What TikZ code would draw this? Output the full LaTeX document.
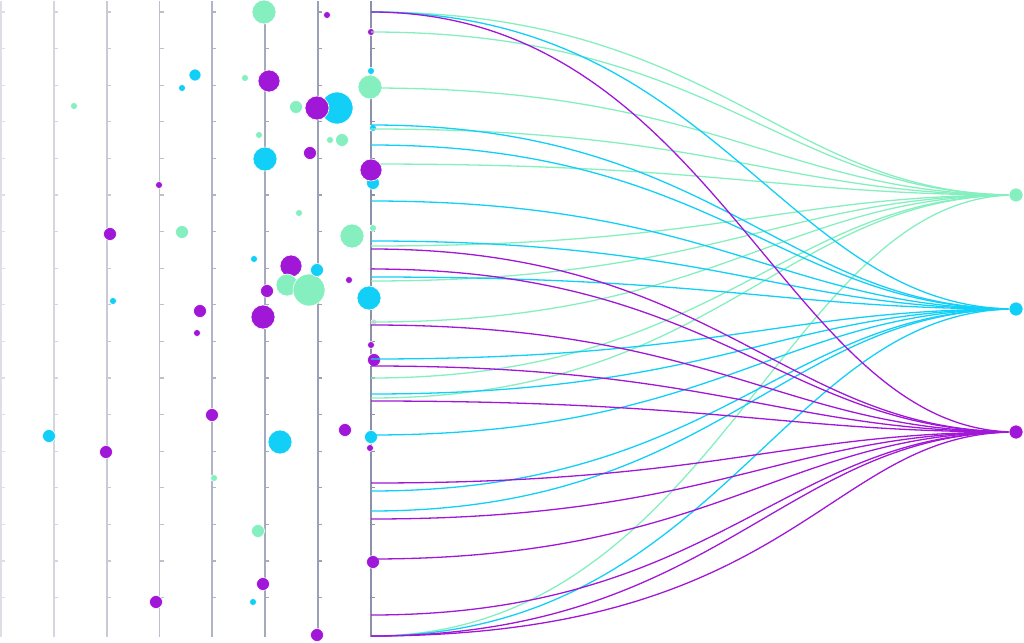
\documentclass[tikz,border=0pt]{standalone}
\definecolor{cg}{RGB}{134,239,191}
\definecolor{cc}{RGB}{18,207,248}
\definecolor{cp}{RGB}{161,23,215}
\definecolor{cgray}{RGB}{215,215,220}
\definecolor{ax1}{RGB}{222,222,228}
\definecolor{ax2}{RGB}{212,213,222}
\definecolor{ax3}{RGB}{200,202,214}
\definecolor{ax4}{RGB}{188,191,206}
\definecolor{ax5}{RGB}{176,180,198}
\definecolor{ax6}{RGB}{165,170,190}
\definecolor{ax7}{RGB}{155,160,182}
\definecolor{ax8}{RGB}{140,145,170}
\tikzset{
  axisline/.style={line width=1.6pt},
  tick/.style={line width=1.2pt},
  dot/.style={circle, inner sep=0pt, draw=white, line width=0.6pt},
  link/.style={line width=1.3pt},
}
\begin{document}
\begin{tikzpicture}[x=1pt,y=-1pt]
\useasboundingbox (0,0) rectangle (1024,642);
% axes
\foreach \ax [count=\i] in {1,54,107,159.5,212,265,318,371}{
  \coordinate (at\i) at (\ax,1);
  \coordinate (ab\i) at (\ax,637);
  \draw[axisline, draw=ax\i] (at\i) -- (ab\i);
  \foreach \k in {0,...,16}{
    \coordinate (t\i-\k) at (\ax-1,12+36.6*\k);
    \draw[tick, draw=ax\i] (t\i-\k) -- ++(5,0);
  }
}
% dots
\foreach \x/\y/\r/\c [count=\i] in {
 74/106/3.5/cg, 264/12/12/cg, 245/78/3.5/cg, 296/107/6.5/cg, 259/135/3.5/cg,
 330/140/3.5/cg, 342/140/6.5/cg, 370/87/12/cg, 299/213/3.5/cg, 182/232/6.5/cg,
 352/236/12/cg, 373/228/3.5/cg, 214/478/3.5/cg, 258/531/6.5/cg,
 195/75/6/cc, 182/88/3.5/cc, 337/108/16/cc, 265/159/12/cc, 371/71/3.5/cc,
 373/128/3.5/cc, 113/301/3.5/cc, 254/259/3.5/cc,
 369/298/12/cc, 49/436/6.5/cc, 280/442/12/cc, 371/437/6.5/cc, 253/602/3.5/cc,
 327/15/3.5/cp, 159/185/3.5/cp, 269/81/11/cp, 317/108/12/cp, 310/153/6.5/cp,
 371/32/3.5/cp, 110/234/6.5/cp, 200/311/6.5/cp, 197/333/3.5/cp, 291/266/11/cp,
 349/280/3.5/cp, 267/291/6.5/cp, 263/317/12/cp, 371/345/3.5/cp, 374/360/6.5/cp,
 212/415/6.5/cp, 106/452/6.5/cp, 156/602/6.5/cp, 345/430/6.5/cp, 370/448/3.5/cp,
 373/562/6.5/cp, 263/584/6.5/cp, 317/635/6.5/cp,
 287/285/11/cg, 309/290/16/cg, 317/270/6.5/cc, 374/322/3/cgray}{
  \node[dot, fill=\c, minimum size={2*\r*1pt}] (d\i) at (\x,\y) {};
}
% targets
\coordinate (tG) at (1016,195);
\coordinate (tC) at (1016,309);
\coordinate (tP) at (1016,432);
% links
\foreach \y [count=\i] in {12,32,88,129,164,246,281,322,378,398,636}{
  \coordinate (sg\i) at (371,\y);
  \draw[link, draw=cg] (sg\i) .. controls +(348,0) and +(-232,0) .. (tG);
}
\foreach \y [count=\i] in {12,125,145,201,241,277,359,394,435,491,511,636}{
  \coordinate (sc\i) at (371,\y);
  \draw[link, draw=cc] (sc\i) .. controls +(348,0) and +(-232,0) .. (tC);
}
\foreach \y [count=\i] in {12,249,269,325,366,401,483,519,559,615,636}{
  \coordinate (sp\i) at (371,\y);
  \draw[link, draw=cp] (sp\i) .. controls +(348,0) and +(-232,0) .. (tP);
}
\coordinate (sp12) at (371,636);
\draw[link, draw=cp] (sp12) .. controls +(430,0) and +(-190,0) .. (tP);
% dots over links
\node[dot, fill=cc, minimum size=13pt] (e1) at (373,183) {};
\node[dot, fill=cp, minimum size=22pt] (e2) at (371,170) {};
% target dots
\node[dot, fill=cg, minimum size=14pt] (nG) at (tG) {};
\node[dot, fill=cc, minimum size=14pt] (nC) at (tC) {};
\node[dot, fill=cp, minimum size=14pt] (nP) at (tP) {};
\end{tikzpicture}
\end{document}
